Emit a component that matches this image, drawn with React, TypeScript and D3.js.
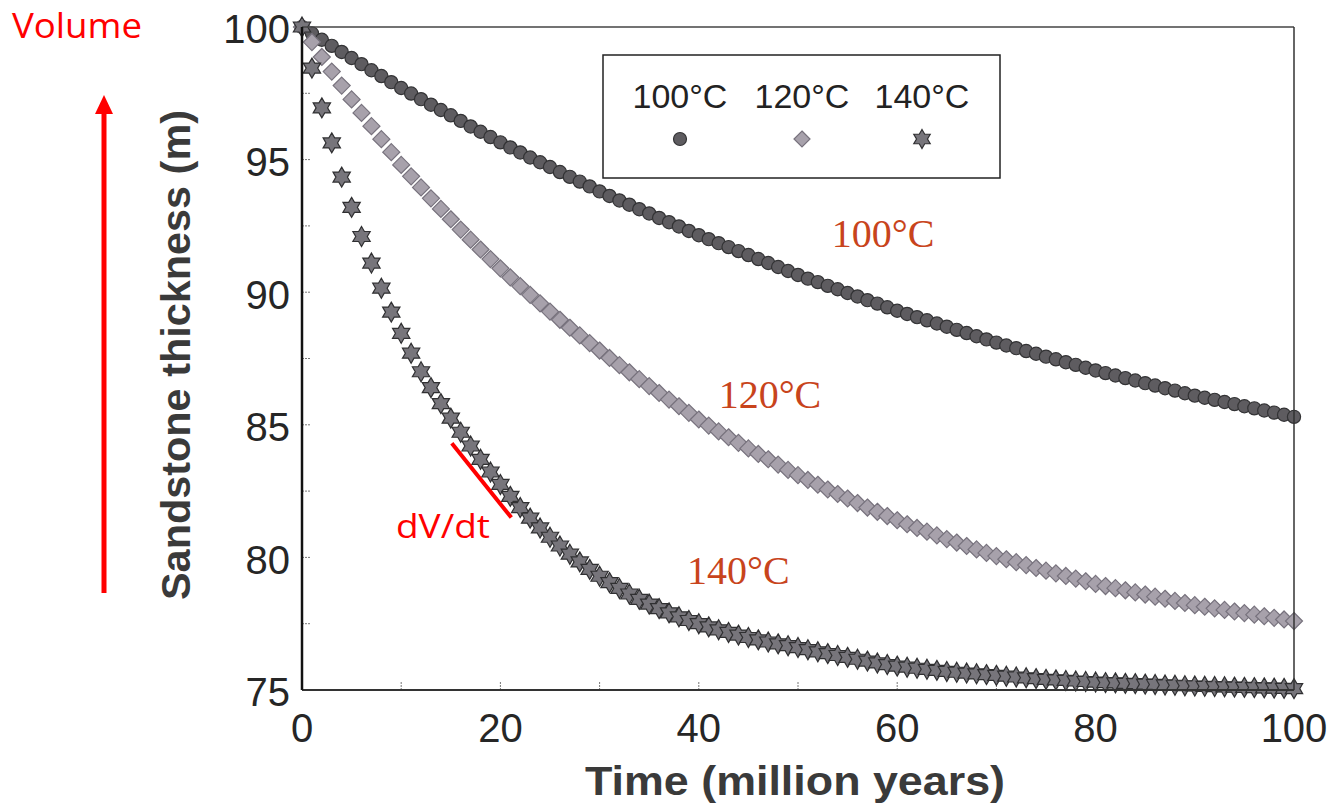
import React from "react";
import * as d3 from "d3";

const width = 1332;
const height = 808;
const plot = { left: 302, right: 1294, top: 27, bottom: 690 };

// time in million years, one sample per Myr
const years = d3.range(0, 101);

const thick100 = [
  100, 99.76, 99.52, 99.29, 99.06, 98.83, 98.6, 98.37, 98.15, 97.92,
  97.7, 97.49, 97.28, 97.07, 96.87, 96.67, 96.46, 96.25, 96.05, 95.85,
  95.65, 95.46, 95.27, 95.08, 94.9, 94.72, 94.53, 94.35, 94.17, 93.99,
  93.8, 93.63, 93.46, 93.3, 93.13, 92.97, 92.8, 92.64, 92.48, 92.31,
  92.15, 92.0, 91.85, 91.7, 91.55, 91.4, 91.25, 91.1, 90.95, 90.8,
  90.65, 90.51, 90.38, 90.24, 90.11, 89.97, 89.84, 89.7, 89.57, 89.43,
  89.3, 89.18, 89.06, 88.94, 88.82, 88.7, 88.58, 88.46, 88.34, 88.22,
  88.1, 87.99, 87.89, 87.78, 87.68, 87.57, 87.47, 87.36, 87.26, 87.15,
  87.05, 86.95, 86.86, 86.76, 86.67, 86.57, 86.48, 86.38, 86.29, 86.19,
  86.1, 86.02, 85.94, 85.86, 85.78, 85.7, 85.62, 85.54, 85.46, 85.38,
  85.3,
];

const thick120 = [
  100, 99.43, 98.87, 98.32, 97.79, 97.27, 96.76, 96.26, 95.77, 95.28,
  94.8, 94.37, 93.95, 93.54, 93.14, 92.75, 92.36, 91.98, 91.61, 91.25,
  90.9, 90.56, 90.23, 89.9, 89.58, 89.27, 88.96, 88.66, 88.37, 88.08,
  87.8, 87.52, 87.25, 86.98, 86.72, 86.46, 86.2, 85.95, 85.7, 85.45,
  85.2, 84.97, 84.75, 84.53, 84.32, 84.11, 83.9, 83.7, 83.5, 83.3,
  83.1, 82.92, 82.74, 82.56, 82.39, 82.22, 82.05, 81.88, 81.72, 81.56,
  81.4, 81.25, 81.11, 80.97, 80.83, 80.69, 80.56, 80.43, 80.3, 80.17,
  80.05, 79.93, 79.82, 79.71, 79.6, 79.5, 79.4, 79.3, 79.2, 79.1,
  79.0, 78.92, 78.84, 78.76, 78.68, 78.6, 78.52, 78.44, 78.36, 78.28,
  78.2, 78.14, 78.08, 78.02, 77.96, 77.9, 77.84, 77.78, 77.72, 77.66,
  77.6,
];

const thick140 = [
  100, 98.45, 96.95, 95.63, 94.34, 93.2, 92.1, 91.1, 90.15, 89.25,
  88.45, 87.7, 87.0, 86.4, 85.8, 85.25, 84.72, 84.2, 83.7, 83.22,
  82.75, 82.3, 81.88, 81.48, 81.11, 80.76, 80.43, 80.12, 79.83, 79.55,
  79.29, 79.05, 78.83, 78.62, 78.42, 78.24, 78.07, 77.91, 77.76, 77.62,
  77.5, 77.38, 77.27, 77.17, 77.07, 76.98, 76.89, 76.81, 76.74, 76.67,
  76.6, 76.52, 76.44, 76.37, 76.3, 76.23, 76.16, 76.09, 76.02, 75.96,
  75.9, 75.86, 75.82, 75.78, 75.74, 75.7, 75.67, 75.64, 75.61, 75.58,
  75.55, 75.52, 75.49, 75.46, 75.43, 75.4, 75.38, 75.36, 75.34, 75.32,
  75.3, 75.28, 75.27, 75.25, 75.24, 75.22, 75.21, 75.19, 75.18, 75.16,
  75.15, 75.14, 75.13, 75.12, 75.11, 75.1, 75.09, 75.08, 75.07, 75.06,
  75.05,
];

const xTicks = [0, 20, 40, 60, 80, 100];
const xMinor = d3.range(0, 101, 10);
const yTicks = [75, 80, 85, 90, 95, 100];
const yMinor = d3.range(75, 100.1, 2.5);
const legendLabels = ["100°C", "120°C", "140°C"];

// curve labels (time, thickness of the text's left baseline)
const curveLabels = [
  { text: "100°C", t: 53.4, v: 91.7 },
  { text: "120°C", t: 42.0, v: 85.65 },
  { text: "140°C", t: 38.8, v: 79.0 },
];
// tangent drawn on the 140°C curve
const tangent = [
  { t: 15.1, v: 84.3 },
  { t: 21.1, v: 81.5 },
];

const x = d3.scaleLinear().domain([0, 100]).range([plot.left, plot.right]);
const y = d3.scaleLinear().domain([75, 100]).range([plot.bottom, plot.top]);

const hexagram = (R: number) => {
  const r = R / Math.sqrt(3);
  const pts = d3.range(12).map((i) => {
    const a = ((-90 + i * 30) * Math.PI) / 180;
    const rad = i % 2 === 0 ? R : r;
    return [rad * Math.cos(a), rad * Math.sin(a)];
  });
  return "M" + pts.map((p) => p[0].toFixed(2) + "," + p[1].toFixed(2)).join("L") + "Z";
};
const diamond = (s: number) => `M0,${-s}L${s},0L0,${s}L${-s},0Z`;

const starPath = hexagram(10);
const diamondPath = diamond(8.5);

const Circle = ({ cx, cy, r = 6.6 }) => (
  <circle cx={cx} cy={cy} r={r} fill="#5e5c60" stroke="#333335" strokeWidth={1.2} />
);
const Diamond = ({ cx, cy, d = diamondPath }) => (
  <path d={d} transform={`translate(${cx},${cy})`} fill="#a7a1ab" stroke="#77727d" strokeWidth={1.2} />
);
const Star = ({ cx, cy, d = starPath }) => (
  <path d={d} transform={`translate(${cx},${cy})`} fill="#77757b" stroke="#303032" strokeWidth={1.2} />
);

export default function App() {
  const sans = "'Liberation Sans', Arial, sans-serif";
  return (
    <svg
      width={width}
      height={height}
      style={{ position: "absolute", left: 0, top: 0, background: "#fff" }}
    >
      <rect width={width} height={height} fill="#fff" />

      {/* minor ticks inside the frame */}
      {xMinor.map((t) => (
        <line key={"xm" + t} x1={x(t)} x2={x(t)} y1={plot.bottom} y2={plot.bottom - 8} stroke="#777" strokeWidth={1} strokeDasharray="2,1" />
      ))}
      {yMinor.map((v) => (
        <line key={"ym" + v} x1={plot.left} x2={plot.left + 8} y1={y(v)} y2={y(v)} stroke="#777" strokeWidth={1} strokeDasharray="2,1" />
      ))}

      {/* series */}
      <g>
        {years.map((t, i) => (
          <Circle key={"a" + t} cx={x(t)} cy={y(thick100[i])} />
        ))}
      </g>
      <g>
        {years.map((t, i) => (
          <Diamond key={"b" + t} cx={x(t)} cy={y(thick120[i])} />
        ))}
      </g>
      <g>
        {years.map((t, i) => (
          <Star key={"c" + t} cx={x(t)} cy={y(thick140[i])} />
        ))}
      </g>

      {/* frame */}
      <line x1={plot.left} x2={plot.right} y1={plot.top} y2={plot.top} stroke="#444" strokeWidth={1.5} />
      <line x1={plot.right} x2={plot.right} y1={plot.top} y2={plot.bottom} stroke="#333" strokeWidth={1.5} />
      <line x1={plot.left} x2={plot.right} y1={plot.bottom} y2={plot.bottom} stroke="#333" strokeWidth={2} />
      <line x1={plot.left} x2={plot.left} y1={plot.top} y2={plot.bottom} stroke="#111" strokeWidth={2.5} />

      {/* tick labels */}
      {yTicks.map((v) => (
        <text key={"yt" + v} x={plot.left - 12} y={y(v) + 2} dy="0.36em" textAnchor="end" fontFamily={sans} fontSize={40} fill="#262626">
          {v}
        </text>
      ))}
      {xTicks.map((t) => (
        <text key={"xt" + t} x={x(t)} y={plot.bottom + 52} textAnchor="middle" fontFamily={sans} fontSize={40} fill="#262626">
          {t}
        </text>
      ))}

      {/* axis titles */}
      <text
        transform={`translate(${176},${355}) rotate(-90)`}
        textAnchor="middle"
        dy="0.35em"
        fontFamily={sans}
        fontWeight="bold"
        fontSize={40}
        fill="#3a3a3a"
        textLength={490}
        lengthAdjust="spacingAndGlyphs"
      >
        Sandstone thickness (m)
      </text>
      <text
        x={795}
        y={795}
        textAnchor="middle"
        fontFamily={sans}
        fontWeight="bold"
        fontSize={41}
        fill="#3a3a3a"
        textLength={420}
        lengthAdjust="spacingAndGlyphs"
      >
        Time (million years)
      </text>

      {/* legend */}
      <rect x={603} y={55} width={397} height={123} fill="#fff" stroke="#222" strokeWidth={1.5} />
      {legendLabels.map((lab, i) => {
        const cx = [680, 802, 922][i];
        return (
          <g key={lab}>
            <text x={cx} y={108} textAnchor="middle" fontFamily={sans} fontSize={34} fill="#222">
              {lab}
            </text>
            {i === 0 && <Circle cx={cx} cy={139} r={6.5} />}
            {i === 1 && <Diamond cx={cx} cy={139} d={diamond(8)} />}
            {i === 2 && <Star cx={cx} cy={139} d={hexagram(9.5)} />}
          </g>
        );
      })}

      {/* curve labels */}
      {curveLabels.map((c) => (
        <text key={c.text} x={x(c.t)} y={y(c.v)} fontFamily="'Liberation Serif', 'Times New Roman', serif" fontSize={40} fill="#c8441c">
          {c.text}
        </text>
      ))}

      {/* tangent annotation */}
      <line
        x1={x(tangent[0].t)}
        y1={y(tangent[0].v)}
        x2={x(tangent[1].t)}
        y2={y(tangent[1].v)}
        stroke="#ff0000"
        strokeWidth={4}
      />
      <text x={396} y={538} fontFamily="'Open Sans', sans-serif" fontSize={33} fill="#ff0000" textLength={94} lengthAdjust="spacingAndGlyphs">
        dV/dt
      </text>

      {/* volume arrow */}
      <text x={12} y={38} fontFamily="'Open Sans', sans-serif" fontSize={34} fill="#ff0000" textLength={130} lengthAdjust="spacingAndGlyphs">
        Volume
      </text>
      <line x1={104} x2={104} y1={593} y2={110} stroke="#ff0000" strokeWidth={5} />
      <path d="M104,95L113,114L95,114Z" fill="#ff0000" />
    </svg>
  );
}
